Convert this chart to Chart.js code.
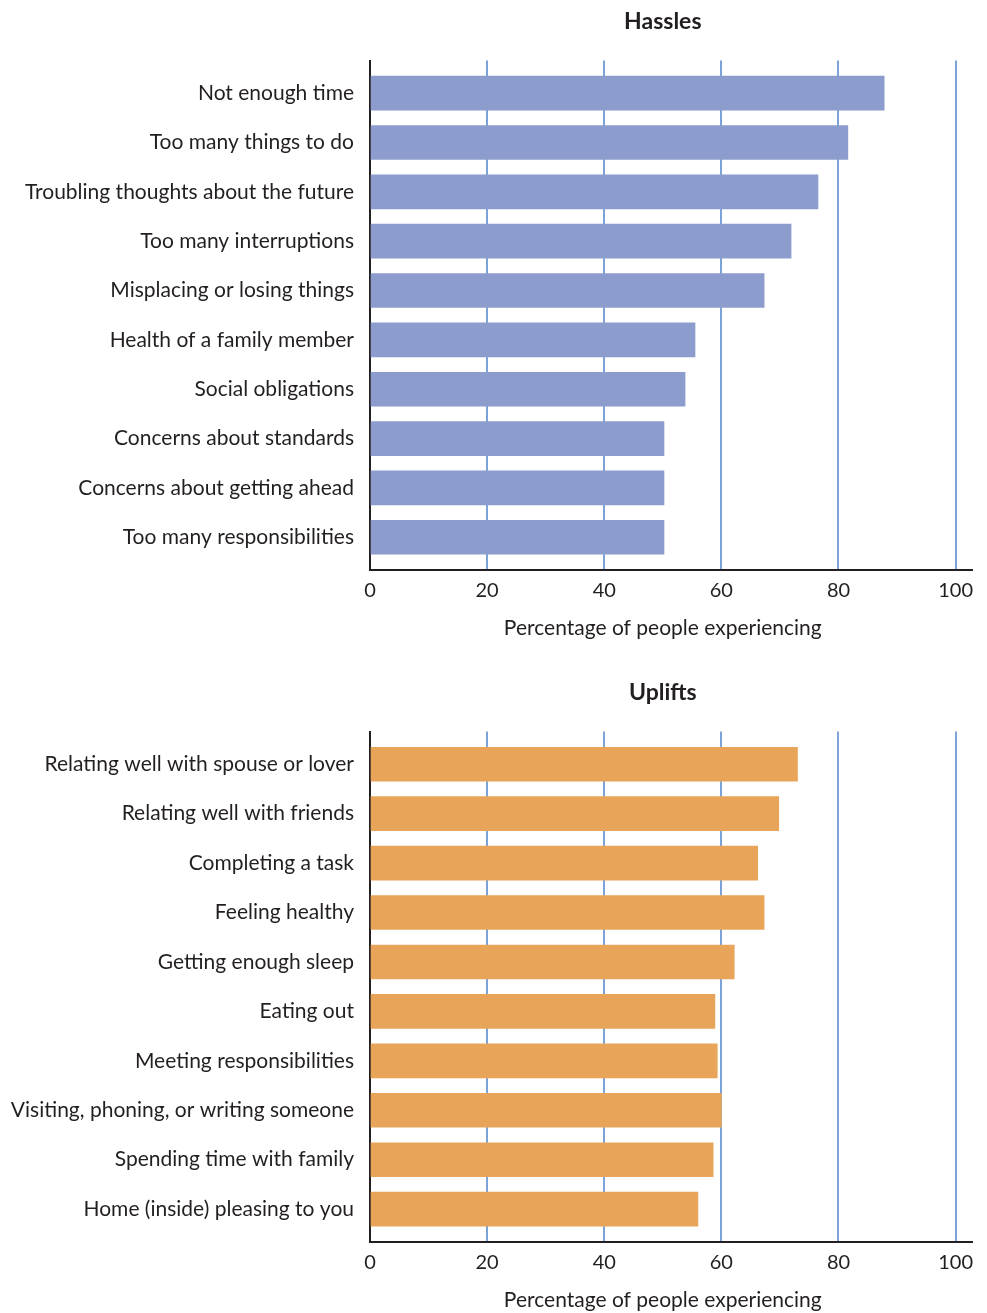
<!DOCTYPE html>
<html>
<head>
<meta charset="utf-8">
<script src="https://cdn.jsdelivr.net/npm/chart.js@4/dist/chart.umd.min.js"></script>
<style>
  html, body { margin: 0; padding: 0; background: #ffffff; overflow: hidden; }
  .wrap { position: absolute; left: 0; width: 987px; }
  #w1 { top: 0; height: 671px; }
  #w2 { top: 671px; height: 642px; }
</style>
</head>
<body>
<div class="wrap" id="w1"><canvas id="c1" width="987" height="671"></canvas></div>
<div class="wrap" id="w2"><canvas id="c2" width="987" height="642"></canvas></div>
<script>
// ---- data ----
const hassleLabels = [
  "Not enough time",
  "Too many things to do",
  "Troubling thoughts about the future",
  "Too many interruptions",
  "Misplacing or losing things",
  "Health of a family member",
  "Social obligations",
  "Concerns about standards",
  "Concerns about getting ahead",
  "Too many responsibilities"
];
const hassleValues = [87.8, 81.6, 76.5, 71.9, 67.3, 55.5, 53.8, 50.2, 50.2, 50.2];

const upliftLabels = [
  "Relating well with spouse or lover",
  "Relating well with friends",
  "Completing a task",
  "Feeling healthy",
  "Getting enough sleep",
  "Eating out",
  "Meeting responsibilities",
  "Visiting, phoning, or writing someone",
  "Spending time with family",
  "Home (inside) pleasing to you"
];
const upliftValues = [73.0, 69.8, 66.2, 67.3, 62.2, 58.9, 59.3, 60.0, 58.6, 56.0];

const xTickValues = [0, 20, 40, 60, 80, 100];
const axisTitleText = "Percentage of people experiencing";

// ---- styling ----
const FONT = "Lato, 'Open Sans', 'DejaVu Sans', sans-serif";
const TEXT = "#231f20";
const GRID = "#7ba3d9";

const centerTitles = {
  id: 'centerTitles',
  afterLayout(chart) {
    const xs = chart.scales.x;
    const c = (xs.getPixelForValue(0) + xs.getPixelForValue(100)) / 2;
    const half = 300;
    chart.boxes.forEach(b => {
      if (b === chart.titleBlock || (b.options && b.options.text === axisTitleText)) {
        b.left = c - half;
        b.right = c + half;
      }
    });
  }
};

function makeChart(id, title, labels, values, color, bottomPad) {
  const data = values.map((v, i) => ({ x: v, y: i }));
  return new Chart(document.getElementById(id), {
    type: 'bar',
    data: {
      datasets: [{
        data: data,
        backgroundColor: color,
        borderWidth: 0,
        barThickness: 34
      }]
    },
    plugins: [centerTitles],
    options: {
      indexAxis: 'y',
      responsive: false,
      animation: false,
      devicePixelRatio: 1,
      layout: { padding: { left: 0, right: 15, top: 0, bottom: bottomPad } },
      plugins: {
        legend: { display: false },
        tooltip: { enabled: false },
        title: {
          display: true,
          text: title,
          color: TEXT,
          font: { family: FONT, size: 23, weight: 'bold', lineHeight: 1.2 },
          padding: { top: 8, bottom: 25 },
          fullSize: false
        },
        subtitle: {
          display: true,
          position: 'bottom',
          text: axisTitleText,
          color: TEXT,
          font: { family: FONT, size: 21, weight: 'normal', lineHeight: 1.2 },
          padding: { top: 4, bottom: 0 },
          fullSize: false
        }
      },
      scales: {
        x: {
          type: 'linear',
          min: 0,
          max: 102.8,
          afterBuildTicks: (s) => { s.ticks = xTickValues.map(v => ({ value: v })); },
          ticks: {
            color: TEXT,
            font: { family: FONT, size: 20 },
            padding: 9,
            autoSkip: false,
            maxRotation: 0
          },
          grid: {
            drawTicks: false,
            color: (ctx) => (ctx.tick && ctx.tick.value === 0) ? 'rgba(0,0,0,0)' : GRID,
            lineWidth: 2
          },
          border: { display: true, color: TEXT, width: 2 }
        },
        y: {
          type: 'linear',
          reverse: true,
          offset: false,
          min: -0.66,
          max: 9.66,
          afterBuildTicks: (s) => { s.ticks = labels.map((_, i) => ({ value: i })); },
          afterFit: (s) => { s.width = 370; },
          ticks: {
            color: TEXT,
            font: { family: FONT, size: 21 },
            padding: 16,
            autoSkip: false,
            callback: (v) => labels[v]
          },
          grid: { display: false, drawTicks: false, offset: false },
          border: { display: true, color: TEXT, width: 2 }
        }
      }
    }
  });
}

makeChart('c1', 'Hassles', hassleLabels, hassleValues, '#8c9ccd', 30);
makeChart('c2', 'Uplifts', upliftLabels, upliftValues, '#e8a55a', 0);
</script>
</body>
</html>
